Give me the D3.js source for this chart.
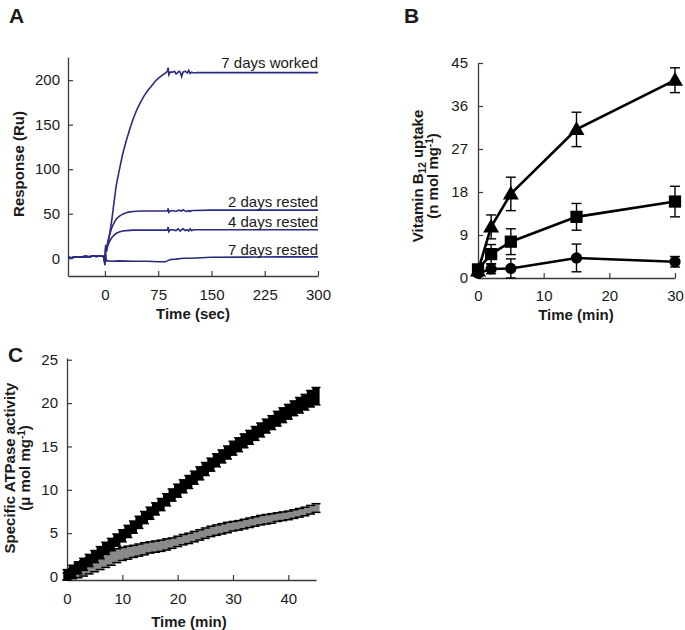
<!DOCTYPE html>
<html><head><meta charset="utf-8">
<script src="https://cdn.jsdelivr.net/npm/d3@7/dist/d3.min.js"></script>
<style>
body{margin:0;background:#fff;}
svg{display:block;font-family:"Liberation Sans",Arial,Helvetica,sans-serif;}
</style></head>
<body>
<script>
// ---------- Panel A data (SPR sensorgram) ----------
const ticksAx = [0, 75, 150, 225, 300];
const ticksAy = [0, 50, 100, 150, 200];
const baseA = [[-52,1],[-47,0.5],[-42,1.5],[-37,1],[-32,1.5],[-27,2],[-22,1.5],[-17,2.5],[-12,2],[-7,2.5],[-2,2]];
const worked7 = [[0,-5],[1,15],[2,8],[3,12],[4,16],[6,24],[8,34],[10,45],[13,64],[16,82],[20,98],[25,117],[30,132],[35,145],[40,157],[45,167],[50,175],[55,182],[60,188],[65,193],[70,198],[75,202],[80,205],[85,208],[88,210],[89,214],[90,206],[92,209],[95,209],[98,210],[100,207],[102,208],[104,210],[106,209],[108,204],[110,209],[113,210],[116,208],[118,211],[120,207.5],[122,209],[125,208],[130,208.5],[150,208.5],[200,208.5],[250,208.5],[300,208.5]];
const rested2 = [[0,-5],[1,12],[2,8],[3,14],[4,18],[6,25],[8,30],[10,35],[13,40],[16,44],[20,47],[25,49.5],[30,51],[35,52],[40,52.5],[50,53],[60,53],[75,53],[88,53],[89,56],[90,51.5],[92,53],[95,53.5],[100,52.5],[104,54],[108,53],[110,54.5],[113,53],[116,52.5],[118,53.5],[120,52.5],[122,53.5],[125,53.5],[150,54],[200,54],[250,54],[300,54]];
const rested4 = [[0,-5],[1,10],[2,7],[3,11],[4,14],[6,18],[8,21],[10,23.5],[13,26],[16,28],[20,29.5],[25,30.5],[30,31],[40,31.5],[50,31.5],[75,31.5],[88,31.5],[89,35],[90,30],[92,32],[95,32],[100,31],[103,33],[106,30.5],[108,32],[110,33],[113,31],[116,32],[118,30.5],[120,33],[122,31],[125,32],[150,32],[200,32],[250,32],[300,32]];
const rested7 = [[0,-8],[1,5],[2,-3],[4,-3],[10,-3.5],[20,-3],[40,-3.5],[60,-3.5],[75,-4],[85,-4],[88,-3],[92,-1.5],[100,-1],[110,0],[120,0],[150,1],[200,1.2],[250,1.5],[300,1.5]];
const labelsA = ["7 days worked","2 days rested","4 days rested","7 days rested"];

// ---------- Panel B data (vitamin B12 uptake) ----------
const timeB = [0, 2, 5, 15, 30];
const triB = [1.5, 10.7, 17.6, 31.1, 41.4];
const triErrB = [0.8, 2.5, 3.5, 3.6, 2.6];
const sqB = [1.8, 5.0, 7.6, 12.8, 16.0];
const sqErrB = [0.8, 2.0, 2.7, 2.8, 3.2];
const ciB = [1.0, 1.9, 2.0, 4.2, 3.4];
const ciErrB = [0.6, 1.0, 2.0, 2.9, 1.1];
const ticksBx = [0, 10, 20, 30];
const ticksBy = [0, 9, 18, 27, 36, 45];

// ---------- Panel C data (ATPase activity) ----------
const timeC = [0,1,2,3,4,5,6,7,8,9,10,11,12,13,14,15,16,17,18,19,20,21,22,23,24,25,26,27,28,29,30,31,32,33,34,35,36,37,38,39,40,41,42,43,44,45];
const blackC = [0.2,0.6,1.0,1.4,1.85,2.3,2.75,3.25,3.7,4.2,4.7,5.2,5.7,6.25,6.8,7.3,7.8,8.3,8.85,9.4,9.9,10.4,10.9,11.4,11.9,12.4,12.9,13.4,13.85,14.3,14.8,15.2,15.65,16.05,16.5,16.9,17.35,17.75,18.2,18.6,19.0,19.4,19.75,20.1,20.5,20.8];
const blackErrC = [0.6,0.7,0.7,0.7,0.7,0.7,0.7,0.7,0.7,0.7,0.7,0.7,0.7,0.7,0.7,0.7,0.7,0.7,0.7,0.7,0.75,0.75,0.75,0.75,0.75,0.75,0.75,0.75,0.75,0.75,0.8,0.8,0.8,0.8,0.8,0.8,0.8,0.8,0.85,0.85,0.85,0.85,0.9,0.9,0.95,1.0];
const greyC = [0.0,0.35,0.65,0.95,1.25,1.5,1.75,1.95,2.15,2.4,2.6,2.75,2.9,3.05,3.2,3.35,3.45,3.55,3.7,3.85,4.05,4.25,4.4,4.6,4.8,5.0,5.2,5.35,5.5,5.65,5.8,5.9,6.05,6.2,6.35,6.5,6.6,6.7,6.85,6.95,7.05,7.2,7.35,7.5,7.7,7.9];
const greyErrC = [0.4,0.6,0.8,0.9,0.95,0.95,0.95,0.9,0.85,0.8,0.75,0.75,0.7,0.7,0.7,0.65,0.65,0.65,0.65,0.6,0.6,0.6,0.6,0.6,0.6,0.6,0.6,0.6,0.6,0.6,0.55,0.55,0.55,0.55,0.55,0.55,0.55,0.55,0.5,0.5,0.5,0.5,0.5,0.5,0.5,0.5];
const ticksCx = [0, 10, 20, 30, 40];
const ticksCy = [0, 5, 10, 15, 20, 25];

const W = 685, H = 630;
const svg = d3.select("body").append("svg").attr("width", W).attr("height", H);
const TXT = "#1a1a1a", AX = "#3a3a3a", FS = 15;

function axes(g, x, y, tx, ty, x0, y0, padX, padY) {
  const ax = g.append("g").attr("transform", `translate(0,${y0})`)
    .call(d3.axisBottom(x).tickValues(tx).tickSizeInner(-5).tickSizeOuter(0).tickPadding(padX));
  const ay = g.append("g").attr("transform", `translate(${x0},0)`)
    .call(d3.axisLeft(y).tickValues(ty).tickSizeInner(-5).tickSizeOuter(0).tickPadding(padY));
  [ax, ay].forEach(a => {
    a.selectAll("path.domain").attr("stroke", AX).attr("stroke-width", 1.3);
    a.selectAll(".tick line").attr("stroke", AX).attr("stroke-width", 1.2);
    a.selectAll("text").attr("font-size", FS).attr("fill", TXT)
      .attr("font-family", '"Liberation Sans",Arial,sans-serif');
  });
}

// ================= Panel A =================
{
  const x = d3.scaleLinear().domain([-52, 300]).range([68, 318]);
  const y = d3.scaleLinear().domain([-20, 226]).range([276, 57]);
  const g = svg.append("g");
  axes(g, x, y, ticksAx, ticksAy, 68, 276, 13, 8);
  const line = d3.line().x(d => x(d[0])).y(d => y(d[1]));
  const series = [worked7, rested2, rested4, rested7];
  series.forEach(s => {
    g.append("path").datum(baseA.concat(s)).attr("d", line)
      .attr("fill", "none").attr("stroke", "#2a2a82").attr("stroke-width", 1.6);
  });
  const labY = [68, 207, 227, 255];
  labelsA.forEach((t, i) => g.append("text").attr("x", 318).attr("y", labY[i])
    .attr("text-anchor", "end").attr("font-size", FS).attr("fill", TXT).text(t));
  g.append("text").attr("transform", "translate(24,164) rotate(-90)").attr("text-anchor", "middle")
    .attr("font-size", FS).attr("font-weight", "bold").attr("fill", TXT).text("Response (Ru)");
  g.append("text").attr("x", 193).attr("y", 319).attr("text-anchor", "middle")
    .attr("font-size", FS).attr("font-weight", "bold").attr("fill", TXT).text("Time (sec)");
  g.append("text").attr("x", 9).attr("y", 23).attr("font-size", 21).attr("font-weight", "bold").attr("fill", TXT).text("A");
}

// ================= Panel B =================
{
  const x = d3.scaleLinear().domain([0, 30]).range([478, 675]);
  const y = d3.scaleLinear().domain([0, 45]).range([278, 63]);
  const g = svg.append("g");
  axes(g, x, y, ticksBx, ticksBy, 478, 278, 12, 10);
  const sets = [
    {v: ciB, e: ciErrB, sym: d3.symbolCircle, size: 100},
    {v: sqB, e: sqErrB, sym: d3.symbolSquare, size: 150},
    {v: triB, e: triErrB, sym: d3.symbolTriangle, size: 110}
  ];
  const line = d3.line().x((d, i) => x(timeB[i])).y(d => y(d));
  sets.forEach(s => {
    g.append("path").datum(s.v).attr("d", line).attr("fill", "none")
      .attr("stroke", "#000").attr("stroke-width", 2.6);
  });
  sets.forEach(s => {
    s.v.forEach((v, i) => {
      const cx = x(timeB[i]), t = y(v + s.e[i]), b = y(Math.max(0, v - s.e[i]));
      g.append("line").attr("x1", cx).attr("x2", cx).attr("y1", t).attr("y2", b).attr("stroke", "#000").attr("stroke-width", 1.4);
      [t, b].forEach(yy => g.append("line").attr("x1", cx - 5).attr("x2", cx + 5).attr("y1", yy).attr("y2", yy).attr("stroke", "#000").attr("stroke-width", 1.4));
    });
  });
  sets.forEach(s => {
    s.v.forEach((v, i) => {
      g.append("path").attr("d", d3.symbol().type(s.sym).size(s.size)())
        .attr("transform", `translate(${x(timeB[i])},${y(v) + (s.sym === d3.symbolTriangle ? 1 : 0)})`).attr("fill", "#000");
    });
  });
  const l1 = g.append("text").attr("transform", "translate(423,176) rotate(-90)").attr("text-anchor", "middle")
    .attr("font-size", FS).attr("font-weight", "bold").attr("fill", TXT);
  l1.append("tspan").text("Vitamin B");
  l1.append("tspan").attr("font-size", 10).attr("dy", 3).text("12");
  l1.append("tspan").attr("dy", -3).text(" uptake");
  const l2 = g.append("text").attr("transform", "translate(438,176) rotate(-90)").attr("text-anchor", "middle")
    .attr("font-size", FS).attr("font-weight", "bold").attr("fill", TXT);
  l2.append("tspan").text("(n mol mg");
  l2.append("tspan").attr("font-size", 10).attr("dy", -5).text("-1");
  l2.append("tspan").attr("dy", 5).text(")");
  g.append("text").attr("x", 576).attr("y", 320).attr("text-anchor", "middle")
    .attr("font-size", FS).attr("font-weight", "bold").attr("fill", TXT).text("Time (min)");
  g.append("text").attr("x", 404).attr("y", 23).attr("font-size", 21).attr("font-weight", "bold").attr("fill", TXT).text("B");
}

// ================= Panel C =================
{
  const x = d3.scaleLinear().domain([0, 45]).range([67, 316]);
  const y = d3.scaleLinear().domain([-0.4, 25.2]).range([580, 358]);
  const g = svg.append("g");
  axes(g, x, y, ticksCx, ticksCy, 67, 580, 13, 9);
  function band(vals, errs, fill) {
    vals.forEach((v, i) => {
      const cx = x(timeC[i]), t = y(v + errs[i]), b = y(v - errs[i]);
      g.append("rect").attr("x", cx - 3.6).attr("width", 7.2).attr("y", t).attr("height", b - t).attr("fill", fill);
    });
    vals.forEach((v, i) => {
      const cx = x(timeC[i]), t = y(v + errs[i]), b = y(v - errs[i]);
      [t, b].forEach(yy => g.append("line").attr("x1", cx - 4.5).attr("x2", cx + 4.5).attr("y1", yy).attr("y2", yy)
        .attr("stroke", "#000").attr("stroke-width", 1.5));
    });
  }
  band(greyC, greyErrC, "#8a8a8a");
  band(blackC, blackErrC, "#000");
  g.append("text").attr("transform", "translate(15,468) rotate(-90)").attr("text-anchor", "middle")
    .attr("font-size", FS).attr("font-weight", "bold").attr("fill", TXT).text("Specific ATPase activity");
  const l2 = g.append("text").attr("transform", "translate(30,468) rotate(-90)").attr("text-anchor", "middle")
    .attr("font-size", FS).attr("font-weight", "bold").attr("fill", TXT);
  l2.append("tspan").text("(μ mol mg");
  l2.append("tspan").attr("font-size", 10).attr("dy", -5).text("-1");
  l2.append("tspan").attr("dy", 5).text(")");
  g.append("text").attr("x", 189).attr("y", 627).attr("text-anchor", "middle")
    .attr("font-size", FS).attr("font-weight", "bold").attr("fill", TXT).text("Time (min)");
  g.append("text").attr("x", 8).attr("y", 362).attr("font-size", 21).attr("font-weight", "bold").attr("fill", TXT).text("C");
}
</script>
</body></html>
